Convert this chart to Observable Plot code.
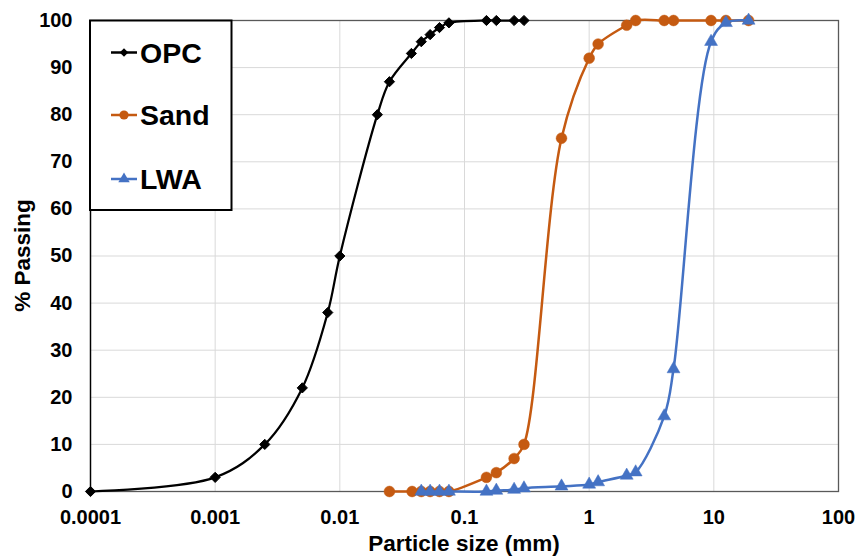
<!DOCTYPE html>
<html>
<head>
<meta charset="utf-8">
<script src="https://cdn.jsdelivr.net/npm/d3@7"></script>
<script src="https://cdn.jsdelivr.net/npm/@observablehq/plot@0.6"></script>
<style>
  html, body { margin: 0; padding: 0; background: #fff; }
  #chart { width: 864px; height: 556px; }
</style>
</head>
<body>
<div id="chart"></div>
<script>
// ---- data ----
const opcSize  = [0.0001, 0.001, 0.0025, 0.005, 0.008, 0.01, 0.02, 0.025, 0.0375, 0.045, 0.053, 0.063, 0.075, 0.15, 0.18, 0.25, 0.3];
const opcPass  = [0, 3, 10, 22, 38, 50, 80, 87, 93, 95.5, 97, 98.5, 99.5, 100, 100, 100, 100];

const sandSize = [0.025, 0.038, 0.045, 0.053, 0.063, 0.075, 0.15, 0.18, 0.25, 0.3, 0.6, 1.0, 1.18, 2.0, 2.36, 4.0, 4.75, 9.5, 12.5, 19];
const sandPass = [0, 0, 0, 0, 0, 0, 3, 4, 7, 10, 75, 92, 95, 99, 100, 100, 100, 100, 100, 100];

const lwaSize  = [0.045, 0.053, 0.063, 0.075, 0.15, 0.18, 0.25, 0.3, 0.6, 1.0, 1.18, 2.0, 2.36, 4.0, 4.75, 9.5, 12.5, 19];
const lwaPass  = [0, 0, 0, 0, 0, 0.2, 0.4, 0.7, 1.1, 1.5, 2.0, 3.4, 4.1, 16, 26, 95.5, 99.5, 100];

const seriesNames = ["OPC", "Sand", "LWA"];
const xTicks = [0.0001, 0.001, 0.01, 0.1, 1, 10, 100];
const xTickLabels = ["0.0001", "0.001", "0.01", "0.1", "1", "10", "100"];
const yTicks = [0, 10, 20, 30, 40, 50, 60, 70, 80, 90, 100];
const xTitle = "Particle size (mm)";
const yTitle = "% Passing";

// ---- build tables ----
const zip = (xs, ys) => xs.map((x, i) => ({x, y: ys[i]}));
const opc = zip(opcSize, opcPass);
const sand = zip(sandSize, sandPass);
const lwa = zip(lwaSize, lwaPass);

const colors = {OPC: "#000000", Sand: "#C55A11", LWA: "#4472C4"};
const font = "'Liberation Sans', Arial, sans-serif";

const chart = Plot.plot({
  width: 864,
  height: 556,
  marginLeft: 90,
  marginRight: 26,
  marginTop: 20,
  marginBottom: 65,
  style: {fontFamily: font, background: "#fff", color: "#000"},
  x: {type: "log", domain: [0.0001, 100]},
  y: {domain: [0, 100]},
  marks: [
    Plot.gridX(xTicks, {stroke: "#d9d9d9", strokeOpacity: 1, strokeWidth: 1}),
    Plot.gridY(yTicks, {stroke: "#d9d9d9", strokeOpacity: 1, strokeWidth: 1}),
    Plot.frame({stroke: "#595959", strokeWidth: 1.3}),
    Plot.ruleX([0.0001], {stroke: "#000", strokeWidth: 1.3}),
    Plot.axisX(xTicks, {
      tickSize: 0, tickPadding: 18, label: null,
      tickFormat: d => xTickLabels[xTicks.indexOf(d)],
      fontSize: 20, fontWeight: "bold", fill: "#000"
    }),
    Plot.axisY(yTicks, {
      tickSize: 0, tickPadding: 18, label: null,
      tickFormat: d => String(d),
      fontSize: 20, fontWeight: "bold", fill: "#000"
    }),
    Plot.line(opc, {x: "x", y: "y", stroke: colors.OPC, strokeWidth: 2.25, curve: "catmull-rom"}),
    Plot.dot(opc, {x: "x", y: "y", symbol: "diamond2", r: 4.6, fill: colors.OPC, stroke: colors.OPC, strokeWidth: 1}),
    Plot.line(sand, {x: "x", y: "y", stroke: colors.Sand, strokeWidth: 2.5, curve: "catmull-rom"}),
    Plot.dot(sand, {x: "x", y: "y", symbol: "circle", r: 5.4, fill: colors.Sand, stroke: colors.Sand, strokeWidth: 0.5}),
    Plot.line(lwa, {x: "x", y: "y", stroke: colors.LWA, strokeWidth: 2.5, curve: "catmull-rom"}),
    Plot.dot(lwa, {x: "x", y: "y", symbol: "triangle", r: 4.8, fill: colors.LWA, stroke: colors.LWA, strokeWidth: 0.5})
  ]
});

const svg = d3.select(chart);

// axis titles
svg.append("text")
  .attr("x", 464).attr("y", 551)
  .attr("text-anchor", "middle")
  .style("font-family", font).style("font-size", "22.5px").style("font-weight", "bold")
  .attr("fill", "#000")
  .text(xTitle);

svg.append("text")
  .attr("transform", "translate(30,255.5) rotate(-90)")
  .attr("text-anchor", "middle")
  .style("font-family", font).style("font-size", "22.5px").style("font-weight", "bold")
  .attr("fill", "#000")
  .text(yTitle);

// legend
const lg = svg.append("g");
lg.append("rect")
  .attr("x", 90).attr("y", 20.5).attr("width", 141.5).attr("height", 189.5)
  .attr("fill", "#fff").attr("stroke", "#000").attr("stroke-width", 2);

const legendSymbols = {OPC: d3.symbolDiamond2, Sand: d3.symbolCircle, LWA: d3.symbolTriangle};
const legendSizes = {OPC: Math.PI * 4.2 * 4.2, Sand: Math.PI * 5 * 5, LWA: Math.PI * 4.6 * 4.6};
const legendY = [52.5, 115, 179];
seriesNames.forEach((name, i) => {
  const cy = legendY[i];
  lg.append("line")
    .attr("x1", 111).attr("x2", 137).attr("y1", cy).attr("y2", cy)
    .attr("stroke", colors[name]).attr("stroke-width", 2.5);
  lg.append("path")
    .attr("transform", `translate(124,${cy})`)
    .attr("d", d3.symbol(legendSymbols[name], legendSizes[name] * 0.85)())
    .attr("fill", colors[name]);
  lg.append("text")
    .attr("x", 140).attr("y", cy + 10)
    .attr("text-anchor", "start")
    .style("font-family", font).style("font-size", "28.5px").style("font-weight", "bold")
    .attr("fill", "#000")
    .text(name);
});

document.getElementById("chart").appendChild(chart);
</script>
</body>
</html>
